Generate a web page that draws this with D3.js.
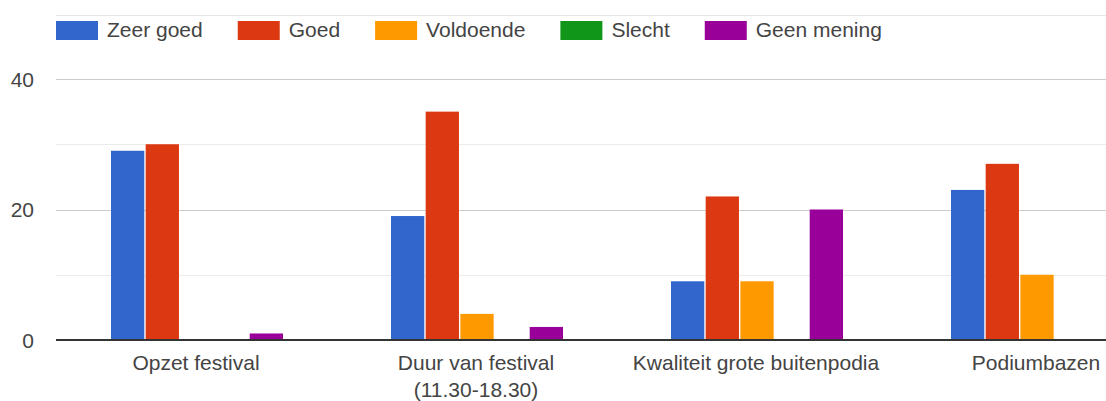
<html lang="nl">
<head>
<meta charset="utf-8">
<title>Beoordeling festival</title>
<style>
    body { margin: 0; background: #fff; }
    text { font-family: Arial, "Liberation Sans", sans-serif; fill: #444; }
</style>
</head>
<body>
<svg id="chart"></svg>
<script src="https://d3js.org/d3.v7.min.js"></script>
<script>
// data
var categories = ["Opzet festival", "Duur van festival (11.30-18.30)", "Kwaliteit grote buitenpodia", "Podiumbazen"];
var categoryLines = [["Opzet festival"], ["Duur van festival", "(11.30-18.30)"], ["Kwaliteit grote buitenpodia"], ["Podiumbazen"]];
var seriesNames = ["Zeer goed", "Goed", "Voldoende", "Slecht", "Geen mening"];
var zeerGoed   = [29, 19, 9, 23];
var goed       = [30, 35, 22, 27];
var voldoende  = [0, 4, 9, 10];
var slecht     = [0, 0, 0, 0];
var geenMening = [1, 2, 20, 0];
var colors = ["#3366cc", "#dc3912", "#ff9900", "#109618", "#990099"];
var majorTicks = [0, 20, 40];
var minorTicks = [10, 30];

var width = 1106, height = 401;
var left = 56, base = 340, top40 = 79;
var bandW = 280;

var svg = d3.select("#chart").attr("width", width).attr("height", height);

var allSeries = [zeerGoed, goed, voldoende, slecht, geenMening];
var rows = categories.map(function(c, i) {
    return { cat: c, lines: categoryLines[i], vals: allSeries.map(function(s) { return s[i]; }) };
});

var x0 = d3.scaleBand().domain(categories).range([left, left + bandW * categories.length]).padding(0);
var x1 = d3.scaleBand().domain(seriesNames).range([55, 227]).paddingInner(0.04).paddingOuter(0);
var y = d3.scaleLinear().domain([0, 40]).range([base, top40]);

// top border line
svg.append("line")
    .attr("x1", left).attr("x2", width)
    .attr("y1", 15.5).attr("y2", 15.5)
    .attr("stroke", "#e6e6e6").attr("stroke-width", 1);

// gridlines
svg.selectAll(".minor").data(minorTicks).enter().append("line")
    .attr("x1", left).attr("x2", width)
    .attr("y1", d => Math.round(y(d)) + 0.5).attr("y2", d => Math.round(y(d)) + 0.5)
    .attr("stroke", "#ebebeb");
svg.selectAll(".major").data(majorTicks.filter(d => d > 0)).enter().append("line")
    .attr("x1", left).attr("x2", width)
    .attr("y1", d => Math.round(y(d)) + 0.5).attr("y2", d => Math.round(y(d)) + 0.5)
    .attr("stroke", "#cccccc");

// y tick labels
svg.selectAll(".ytick").data(majorTicks).enter().append("text")
    .attr("x", 34).attr("y", d => y(d))
    .attr("dy", "0.36em")
    .attr("text-anchor", "end")
    .style("font-size", "21px")
    .text(d => d);

// bars
var groups = svg.selectAll(".grp").data(rows).enter().append("g")
    .attr("transform", d => "translate(" + x0(d.cat) + ",0)");
groups.selectAll("rect")
    .data(d => d.vals.map((v, k) => ({ name: seriesNames[k], v: v, k: k })))
    .enter().append("rect")
    .filter(d => d.v > 0)
    .attr("x", d => x1(d.name))
    .attr("y", d => y(d.v))
    .attr("width", x1.bandwidth())
    .attr("height", d => base - y(d.v))
    .attr("fill", d => colors[d.k]);

// baseline
svg.append("line")
    .attr("x1", left).attr("x2", width)
    .attr("y1", base).attr("y2", base)
    .attr("stroke", "#333").attr("stroke-width", 2);

// category labels
var lab = svg.selectAll(".xlab").data(rows).enter().append("text")
    .attr("text-anchor", "middle")
    .attr("x", d => x0(d.cat) + x0.bandwidth() / 2)
    .attr("y", 370)
    .style("font-size", "21px");
lab.selectAll("tspan").data(d => d.lines).enter().append("tspan")
    .attr("x", function() { return d3.select(this.parentNode).attr("x"); })
    .attr("dy", (d, i) => i === 0 ? 0 : 27)
    .text(d => d);

// legend
var lx = 56;
seriesNames.forEach(function(name, k) {
    svg.append("rect")
        .attr("x", lx).attr("y", 21)
        .attr("width", 42).attr("height", 19)
        .attr("fill", colors[k]);
    var t = svg.append("text")
        .attr("x", lx + 51).attr("y", 37)
        .style("font-size", "21px")
        .text(name);
    lx = lx + 51 + t.node().getComputedTextLength() + 35;
});
</script>
</body>
</html>
